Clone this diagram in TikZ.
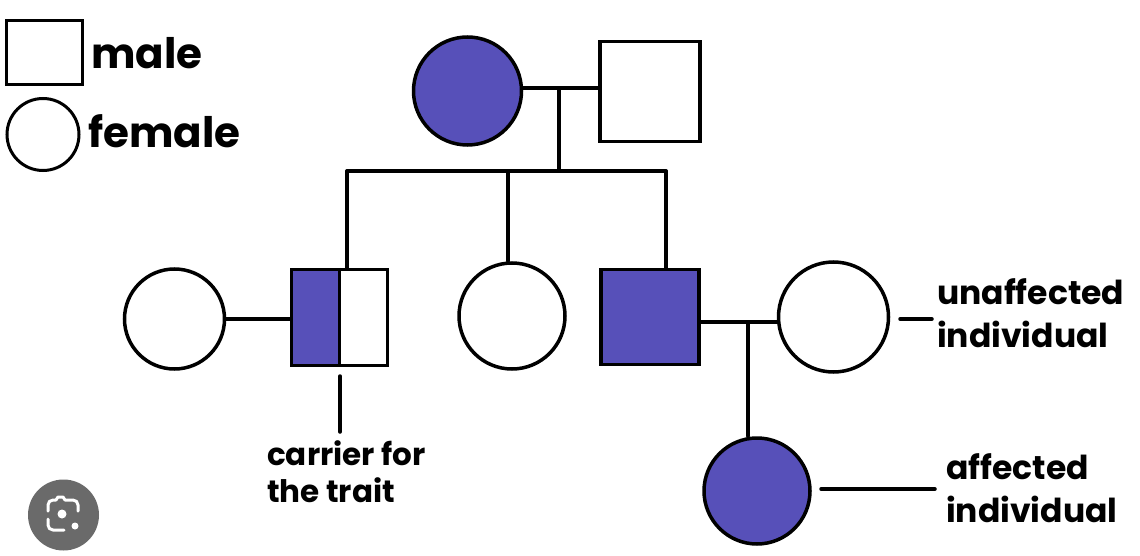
\documentclass[tikz,border=0pt]{standalone}
\usepackage{fontspec}
\setmainfont{Poppins}
\definecolor{aff}{RGB}{87,80,185}
\definecolor{lens}{RGB}{106,106,106}
\begin{document}
\begin{tikzpicture}[x=1pt,y=-1pt,
  lw/.style={line width=3.5pt},
  fem/.style={circle,draw,lw,fill=white,inner sep=0pt,minimum size=#1},
  mal/.style={rectangle,draw,lw,fill=white,inner sep=0pt,minimum width=#1,minimum height=#1},
  conn/.style={lw,line cap=round},
  big/.style={anchor=base west,inner sep=0pt,font=\fontsize{42}{50}\selectfont\bfseries},
  lab/.style={anchor=base west,inner sep=0pt,align=left,font=\fontsize{33}{43}\selectfont\bfseries}]
\useasboundingbox[fill=white] (0,0) rectangle (1140,556);
% legend
\node[mal=76,line width=3pt,minimum height=64] (lm) at (44,52.5) {};
\node[fem=72,line width=3pt] (lf) at (43,134.5) {};
\node[big] (tm) at (91,69) {male};
\node[big] (tf) at (88,148) {female};
% generation I
\node[fem=108,fill=aff] (f0) at (467.5,91) {};
\node[mal=100,minimum height=100] (m0) at (650,91.5) {};
\coordinate (j0) at (559,88);
\draw[conn] (f0.east |- j0) -- (m0.west |- j0);
\coordinate (sL) at (347,171);
\coordinate (sR) at (666,171);
\draw[conn] (j0) -- (j0 |- sL);
\draw[conn] (sL) -- (sR);
% generation II
\node[fem=100] (w1) at (174.5,319) {};
\node[mal=96,path picture={\fill[aff] (path picture bounding box.south west) rectangle (path picture bounding box.north);}] (c1) at (339.5,317.5) {};
\draw[lw] (c1.north) -- (c1.south);
\draw[conn] (w1.east) -- (w1.east -| c1.west);
\draw[conn] (sL) -- (sL |- c1.north);
\node[fem=106] (g1) at (512,316) {};
\coordinate (sM) at (508,171);
\draw[conn] (sM) -- (sM |- g1.north);
\node[mal=98,minimum height=95,fill=aff] (a1) at (650,317) {};
\draw[conn] (sR) -- (sR |- a1.north);
\node[fem=106,minimum width=110] (w2) at (833.5,317) {};
\draw[conn] (a1.east |- 0,322) -- (w2.west |- 0,322);
\coordinate (j1) at (748,322);
% generation III
\node[fem=106,fill=aff] (d1) at (757,491) {};
\draw[conn] (j1) -- (j1 |- d1.north);
% pointers and labels
\coordinate (cp1) at (340,376);
\coordinate (cp2) at (340,432);
\draw[conn] (cp1) -- (cp2);
\node[lab,font=\fontsize{31}{37}\selectfont\bfseries] (tc) at (267,502) {carrier for\\the trait};
\coordinate (up1) at (900,319);
\coordinate (up2) at (932,319);
\draw[conn] (up1) -- (up2);
\node[lab] (tu) at (937,347) {unaffected\\individual};
\coordinate (ap1) at (821,489);
\coordinate (ap2) at (935,489);
\draw[conn] (ap1) -- (ap2);
\node[lab] (ta) at (946,522) {affected\\individual};
% lens overlay
\node[circle,fill=lens,inner sep=0pt,minimum size=71] (ln) at (63.5,515) {};
\begin{scope}[white,line width=3pt,line cap=round,line join=round]
\draw (48,511) -- (48,505) arc[start angle=180,end angle=270,radius=5] -- (56,500) -- (58,497) -- (63,497) -- (65,500) -- (73,500) arc[start angle=270,end angle=360,radius=5] -- (78,511);
\draw (48,519) -- (48,525) arc[start angle=180,end angle=90,radius=5] -- (64,530);
\fill (62,514) circle (4.5);
\fill (75,526) circle (3.5);
\end{scope}
\end{tikzpicture}
\end{document}
